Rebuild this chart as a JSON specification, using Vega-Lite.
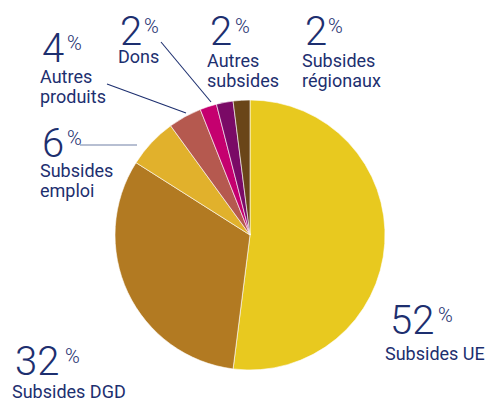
{
  "$schema": "https://vega.github.io/schema/vega-lite/v6.json",
  "width": 480,
  "height": 336,
  "autosize": {"type": "none"},
  "padding": {"left": 10, "top": 67, "right": 0, "bottom": 0},
  "background": "white",
  "config": {"view": {"stroke": null}},
  "resolve": {"scale": {"color": "independent"}},
  "datasets": {
    "slices": [
      {"categorie": "Subsides UE", "pct": 52, "ord": 1},
      {"categorie": "Subsides DGD", "pct": 32, "ord": 2},
      {"categorie": "Subsides emploi", "pct": 6, "ord": 3},
      {"categorie": "Autres produits", "pct": 4, "ord": 4},
      {"categorie": "Dons", "pct": 2, "ord": 5},
      {"categorie": "Autres subsides", "pct": 2, "ord": 6},
      {"categorie": "Subsides régionaux", "pct": 2, "ord": 7}
    ],
    "labels": [
      {"num": "4", "nx": -208, "ny": -173, "px": -183, "lx": -210, "ly": -152, "label": "Autres\nproduits"},
      {"num": "2", "nx": -130, "ny": -190, "px": -106, "lx": -132, "ly": -172, "label": "Dons"},
      {"num": "2", "nx": -40, "ny": -190, "px": -15, "lx": -43, "ly": -168, "label": "Autres\nsubsides"},
      {"num": "2", "nx": 55, "ny": -190, "px": 78, "lx": 52, "ly": -168, "label": "Subsides\nrégionaux"},
      {"num": "6", "nx": -208, "ny": -78, "px": -183, "lx": -210, "ly": -58, "label": "Subsides\nemploi"},
      {"num": "32", "nx": -235, "ny": 140, "px": -185, "lx": -238, "ly": 163, "label": "Subsides DGD"},
      {"num": "52", "nx": 140, "ny": 99, "px": 188, "lx": 135, "ly": 125, "label": "Subsides UE"}
    ],
    "leaders": [
      {"x1": -143, "y1": -151, "x2": -64, "y2": -122, "kind": "a"},
      {"x1": -89, "y1": -193, "x2": -39, "y2": -133, "kind": "a"},
      {"x1": -170, "y1": -90, "x2": -113, "y2": -90, "kind": "b"}
    ]
  },
  "layer": [
    {
      "data": {"name": "slices"},
      "mark": {"type": "arc", "outerRadius": 135, "stroke": "white", "strokeWidth": 0.6},
      "encoding": {
        "theta": {"field": "pct", "type": "quantitative", "stack": true},
        "order": {"field": "ord", "type": "quantitative", "sort": "ascending"},
        "color": {
          "field": "categorie",
          "type": "nominal",
          "legend": null,
          "scale": {
            "domain": ["Subsides UE", "Subsides DGD", "Subsides emploi", "Autres produits", "Dons", "Autres subsides", "Subsides régionaux"],
            "range": ["#E8C91F", "#B27A22", "#E1B12C", "#B5594F", "#C5006F", "#7A0A66", "#6A4518"]
          }
        }
      }
    },
    {
      "data": {"name": "leaders"},
      "mark": {"type": "rule", "strokeWidth": 1.1},
      "encoding": {
        "x": {"field": "x1", "type": "quantitative", "scale": {"domain": [-240, 240], "nice": false, "zero": false}, "axis": null},
        "y": {"field": "y1", "type": "quantitative", "scale": {"domain": [-168, 168], "reverse": true, "nice": false, "zero": false}, "axis": null},
        "x2": {"field": "x2"},
        "y2": {"field": "y2"},
        "color": {"field": "kind", "type": "nominal", "legend": null, "scale": {"domain": ["a", "b"], "range": ["#1d2f6f", "#7080a6"]}}
      }
    },
    {
      "data": {"name": "labels"},
      "mark": {"type": "text", "align": "left", "baseline": "alphabetic", "font": "Roboto", "fontWeight": 300, "fontSize": 40, "color": "#1d2f6f"},
      "encoding": {
        "x": {"field": "nx", "type": "quantitative"},
        "y": {"field": "ny", "type": "quantitative"},
        "text": {"field": "num"}
      }
    },
    {
      "data": {"name": "labels"},
      "mark": {"type": "text", "align": "left", "baseline": "alphabetic", "dy": -12, "font": "Roboto", "fontWeight": 300, "fontSize": 20, "color": "#1d2f6f", "text": "%"},
      "encoding": {
        "x": {"field": "px", "type": "quantitative"},
        "y": {"field": "ny", "type": "quantitative"}
      }
    },
    {
      "data": {"name": "labels"},
      "mark": {"type": "text", "align": "left", "baseline": "alphabetic", "lineBreak": "\n", "lineHeight": 20, "font": "Roboto", "fontSize": 18, "color": "#1d2f6f"},
      "encoding": {
        "x": {"field": "lx", "type": "quantitative"},
        "y": {"field": "ly", "type": "quantitative"},
        "text": {"field": "label"}
      }
    }
  ]
}
